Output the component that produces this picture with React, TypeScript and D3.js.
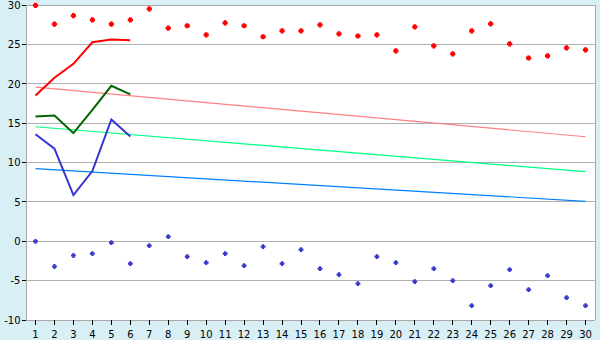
import React from "react";
import * as d3 from "d3";

const categories: string[] = Array.from({ length: 30 }, (_, i) => String(i + 1));

const maxPoints: number[] = [
  30, 27.6, 28.7, 28.15, 27.6, 28.15, 29.55, 27.1, 27.4, 26.25,
  27.77, 27.4, 26.0, 26.75, 26.75, 27.5, 26.37, 26.1, 26.25, 24.2,
  27.26, 24.85, 23.83, 26.75, 27.64, 25.1, 23.3, 23.58, 24.6, 24.34,
];

const minPoints: number[] = [
  0, -3.2, -1.8, -1.56, -0.17, -2.83, -0.55, 0.6, -1.94, -2.7,
  -1.56, -3.09, -0.68, -2.83, -1.05, -3.47, -4.23, -5.37, -1.94, -2.7,
  -5.12, -3.47, -5.0, -8.17, -5.63, -3.6, -6.13, -4.36, -7.15, -8.17,
];

const redLine: number[] = [18.54, 20.8, 22.56, 25.3, 25.65, 25.57];
const greenLine: number[] = [15.87, 16.0, 13.75, 16.7, 19.77, 18.67];
const blueLine: number[] = [13.62, 11.77, 5.88, 8.93, 15.49, 13.33];

// trend lines: [value at first category, value at last category]
const redTrend: number[] = [19.6, 13.29];
const greenTrend: number[] = [14.56, 8.85];
const blueTrend: number[] = [9.23, 5.08];

const yTicks: number[] = [30, 25, 20, 15, 10, 5, 0, -5, -10];

const W = 600;
const H = 340;
const left = 26;
const right = 595;
const top = 5.3;
const bottom = 320;

export default function App() {
  const x = d3.scaleBand<string>().domain(categories).range([left, right]);
  const cx = (i: number) => (x(categories[i]) as number) + x.bandwidth() / 2;
  const y = d3.scaleLinear().domain([-10, 30]).range([bottom, top]);

  const line = d3
    .line<number>()
    .x((_, i) => cx(i))
    .y((d) => y(d));

  const trend = (t: number[]) =>
    d3
      .line<[number, number]>()
      .x((d) => cx(d[0]))
      .y((d) => y(d[1]))([
      [0, t[0]],
      [categories.length - 1, t[1]],
    ]) as string;

  const cross = (a: number, b: number) =>
    `M${-b},${-a}H${b}V${-b}H${a}V${b}H${b}V${a}H${-b}V${b}H${-a}V${-b}H${-b}Z`;

  const font = "'DejaVu Sans', Verdana, sans-serif";

  return (
    <svg
      width={W}
      height={H}
      style={{ position: "absolute", left: 0, top: 0, display: "block" }}
      fontFamily={font}
    >
      <rect x={0} y={0} width={W} height={H} fill="#d9eff6" />
      <rect x={left} y={top} width={right - left} height={bottom - top} fill="#ffffff" />

      {yTicks.map((t) => (
        <g key={t}>
          <line x1={left} x2={right} y1={y(t)} y2={y(t)} stroke="#b0b0b0" strokeWidth={1} shapeRendering="crispEdges" />
          <line x1={left - 4} x2={left} y1={y(t)} y2={y(t)} stroke="#000" strokeWidth={1} shapeRendering="crispEdges" />
          <text x={20.5} y={y(t)} dy="0.36em" textAnchor="end" fontSize={10} fill="#000">
            {String(t)}
          </text>
        </g>
      ))}

      {/* frame */}
      <line x1={left} x2={left} y1={top} y2={bottom} stroke="#a8a8a8" shapeRendering="crispEdges" />
      <line x1={right} x2={right} y1={top} y2={bottom} stroke="#a8a8a8" shapeRendering="crispEdges" />
      <line x1={left} x2={right} y1={top} y2={top} stroke="#a8a8a8" shapeRendering="crispEdges" />
      <line x1={left} x2={right} y1={bottom} y2={bottom} stroke="#a8a8a8" shapeRendering="crispEdges" />

      {categories.map((c, i) => (
        <g key={c}>
          <line x1={cx(i)} x2={cx(i)} y1={bottom} y2={bottom + 5} stroke="#000" shapeRendering="crispEdges" />
          <text x={cx(i)} y={337.5} textAnchor="middle" fontSize={10} fill="#000">
            {c}
          </text>
        </g>
      ))}

      {/* trend lines */}
      <path d={trend(redTrend)} fill="none" stroke="#ff8080" strokeWidth={1.2} />
      <path d={trend(greenTrend)} fill="none" stroke="#00ff80" strokeWidth={1.2} />
      <path d={trend(blueTrend)} fill="none" stroke="#0080ff" strokeWidth={1.2} />

      {/* data lines */}
      <path d={line(redLine) as string} fill="none" stroke="#ff0000" strokeWidth={2} />
      <path d={line(greenLine) as string} fill="none" stroke="#006400" strokeWidth={2} />
      <path d={line(blueLine) as string} fill="none" stroke="#3535cc" strokeWidth={2} />

      {/* markers */}
      {maxPoints.map((v, i) => (
        <path key={"mx" + i} d={cross(2.6, 1.4)} transform={`translate(${cx(i)},${y(v)})`} fill="#ff0000" />
      ))}
      {minPoints.map((v, i) => (
        <path key={"mn" + i} d={cross(2.4, 1.1)} transform={`translate(${cx(i)},${y(v)})`} fill="#3535cc" />
      ))}
    </svg>
  );
}
